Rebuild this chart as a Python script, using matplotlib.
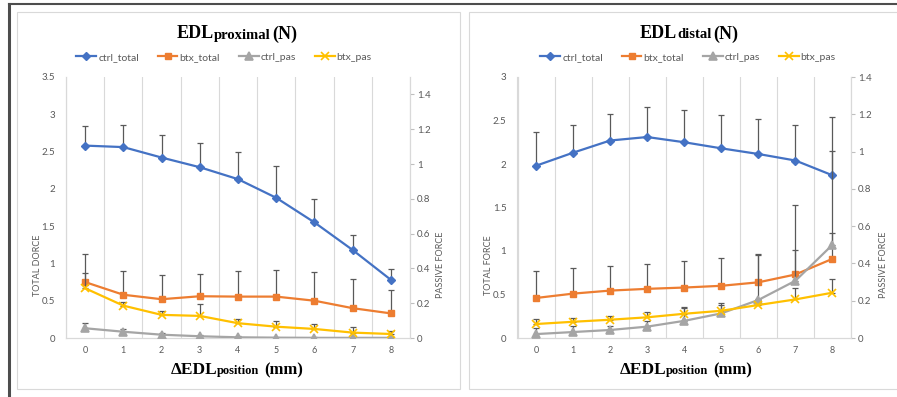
import matplotlib
matplotlib.use('Agg')
import matplotlib.pyplot as plt
from matplotlib.patches import Rectangle
from matplotlib.lines import Line2D
import numpy as np

plt.rcParams['font.family'] = ['Lato', 'DejaVu Sans']

positions = [0, 1, 2, 3, 4, 5, 6, 7, 8]
series_names = ['ctrl_total', 'btx_total', 'ctrl_pas', 'btx_pas']

# EDL proximal (totals on left axis, passive on right axis)
prox_ctrl_total = [2.58, 2.56, 2.42, 2.29, 2.13, 1.88, 1.55, 1.18, 0.78]
prox_ctrl_total_err = [0.26, 0.29, 0.30, 0.32, 0.37, 0.42, 0.32, 0.20, 0.15]
prox_btx_total = [0.75, 0.58, 0.52, 0.56, 0.555, 0.555, 0.50, 0.40, 0.33]
prox_btx_total_err = [0.38, 0.32, 0.33, 0.30, 0.345, 0.355, 0.38, 0.39, 0.32]
prox_ctrl_pas = [0.056, 0.036, 0.019, 0.010, 0.004, 0.002, 0.001, 0.001, 0.001]
prox_ctrl_pas_err = [0.03, 0.018, 0.01, 0.008, 0.005, 0.004, 0.004, 0.004, 0.004]
prox_btx_pas = [0.286, 0.186, 0.133, 0.127, 0.085, 0.065, 0.052, 0.031, 0.023]
prox_btx_pas_err = [0.09, 0.022, 0.022, 0.067, 0.026, 0.034, 0.026, 0.03, 0.019]

# EDL distal
dist_ctrl_total = [1.98, 2.13, 2.27, 2.31, 2.25, 2.18, 2.115, 2.04, 1.87]
dist_ctrl_total_err = [0.39, 0.32, 0.31, 0.35, 0.37, 0.38, 0.40, 0.41, 0.67]
dist_btx_total = [0.46, 0.51, 0.545, 0.565, 0.58, 0.60, 0.64, 0.73, 0.91]
dist_btx_total_err = [0.31, 0.29, 0.285, 0.28, 0.30, 0.32, 0.325, 0.28, 0.30]
dist_ctrl_pas = [0.021, 0.032, 0.043, 0.061, 0.092, 0.132, 0.204, 0.307, 0.50]
dist_ctrl_pas_err = [0.035, 0.03, 0.02, 0.03, 0.067, 0.054, 0.24, 0.406, 0.505]
dist_btx_pas = [0.075, 0.087, 0.098, 0.111, 0.13, 0.146, 0.177, 0.207, 0.243]
dist_btx_pas_err = [0.025, 0.022, 0.022, 0.027, 0.035, 0.03, 0.03, 0.059, 0.073]

colors = ['#4472C4', '#ED7D31', '#A5A5A5', '#FFC000']
markers = ['D', 's', '^', 'x']
msizes = [4.5, 5, 5.5, 6]
txt_gray = '#595959'
grid_gray = '#D9D9D9'

W, H = 897, 397
fig = plt.figure(figsize=(W / 100, H / 100), dpi=100)


def fx(px):
    return px / W


def fy(py):
    return 1 - py / H


# panel frames and outer border
fig.patches.append(Rectangle((fx(17), fy(389)), fx(443), 377 / H, transform=fig.transFigure,
                             facecolor='white', edgecolor=grid_gray, lw=0.8, zorder=-5))
fig.patches.append(Rectangle((fx(469), fy(389)), fx(440), 377 / H, transform=fig.transFigure,
                             facecolor='white', edgecolor=grid_gray, lw=0.8, zorder=-5))
fig.add_artist(Line2D([fx(9), 1], [fy(4), fy(4)], color='#4D4D4D', lw=1.5, transform=fig.transFigure))
fig.add_artist(Line2D([fx(9), fx(9)], [fy(4), 0], color='#4D4D4D', lw=2.2, transform=fig.transFigure))


def rich_text(xc, yb, parts):
    r = fig.canvas.get_renderer()
    items = []
    for s, size, gap in parts:
        t = fig.text(0, yb, s, fontsize=size, fontweight='bold', family='Liberation Serif',
                     va='baseline', ha='left', color='black')
        items.append((t, gap))
    widths = [t.get_window_extent(r).width + g for t, g in items]
    x = xc * W - sum(widths) / 2
    for (t, g), w in zip(items, widths):
        t.set_x(x / W)
        x += w


def draw_panel(rect, totals, tot_errs, passives, pas_errs, ymax_left, ymax_right, left_step):
    ax = fig.add_axes(rect)
    ax2 = ax.twinx()
    handles = []
    for i, (vals, errs) in enumerate(zip(totals, tot_errs)):
        ax.errorbar(positions, vals, yerr=[np.zeros(len(errs)), errs], fmt='none',
                    ecolor='#595959', elinewidth=0.9, capsize=2.5, capthick=0.9, zorder=2)
        h, = ax.plot(positions, vals, color=colors[i], marker=markers[i], ms=msizes[i],
                     lw=1.6, zorder=3, label=series_names[i])
        handles.append(h)
    for j, (vals, errs) in enumerate(zip(passives, pas_errs)):
        i = j + 2
        ax2.errorbar(positions, vals, yerr=[np.zeros(len(errs)), errs], fmt='none',
                     ecolor='#595959', elinewidth=0.9, capsize=2.5, capthick=0.9, zorder=2)
        h, = ax2.plot(positions, vals, color=colors[i], marker=markers[i], ms=msizes[i],
                      mew=1.2, lw=1.6, zorder=3, label=series_names[i])
        handles.append(h)

    ax.set_xlim(-0.5, 8.5)
    ax.set_ylim(0, ymax_left)
    ax2.set_ylim(0, ymax_right)
    ax.set_xticks(positions)
    ax.set_xticks(np.arange(-0.5, 9, 1), minor=True)
    ax.grid(which='minor', axis='x', color=grid_gray, lw=0.8)
    ax.set_axisbelow(True)
    ax.set_yticks(np.arange(0, ymax_left + 0.01, left_step))
    ax.set_yticklabels(['%g' % v for v in np.arange(0, ymax_left + 0.01, left_step)])
    ax2.set_yticks(np.arange(0, 1.41, 0.2))
    ax2.set_yticklabels(['%g' % round(v, 1) for v in np.arange(0, 1.41, 0.2)])
    ax.tick_params(axis='x', which='both', length=0, pad=6, labelsize=6.5, labelcolor=txt_gray)
    ax.tick_params(axis='y', length=0, pad=8, labelsize=7, labelcolor=txt_gray)
    ax2.tick_params(axis='y', length=3, pad=2, color='#BFBFBF', labelsize=7, labelcolor=txt_gray)
    for a in (ax, ax2):
        a.spines['top'].set_visible(False)
        for s in ('left', 'right', 'bottom'):
            a.spines[s].set_color(grid_gray)
            a.spines[s].set_linewidth(0.8)
    ax.patch.set_visible(False)
    return ax, handles


axL, hL = draw_panel([fx(66), 59 / H, 344 / W, 261 / H],
                     [prox_ctrl_total, prox_btx_total], [prox_ctrl_total_err, prox_btx_total_err],
                     [prox_ctrl_pas, prox_btx_pas], [prox_ctrl_pas_err, prox_btx_pas_err],
                     3.5, 1.5, 0.5)
axR, hR = draw_panel([fx(517.5), 59 / H, 333.5 / W, 261 / H],
                     [dist_ctrl_total, dist_btx_total], [dist_ctrl_total_err, dist_btx_total_err],
                     [dist_ctrl_pas, dist_btx_pas], [dist_ctrl_pas_err, dist_btx_pas_err],
                     3.0, 1.4, 0.5)

for handles, xc in ((hL, 224), (hR, 688)):
    fig.legend(handles=handles, loc='center', bbox_to_anchor=(fx(xc), fy(57)), ncol=4,
               frameon=False, fontsize=7.5, labelcolor=txt_gray, handlelength=1.9,
               handletextpad=0.2, columnspacing=1.8)

# axis titles
fig.text(fx(37), fy(265), 'TOTAL DORCE', rotation=90, ha='center', va='center', fontsize=6.5, color=txt_gray)
fig.text(fx(440), fy(265), 'PASSIVE FORCE', rotation=90, ha='center', va='center', fontsize=6.5, color=txt_gray)
fig.text(fx(488), fy(265), 'TOTAL FORCE', rotation=90, ha='center', va='center', fontsize=6.5, color=txt_gray)
fig.text(fx(883), fy(265), 'PASSIVE FORCE', rotation=90, ha='center', va='center', fontsize=6.5, color=txt_gray)

rich_text(fx(237), fy(38.5), [('EDL', 13, 0), ('proximal', 10.5, 2), ('(N)', 13, 0)])
rich_text(fx(689), fy(38.5), [('EDL', 13, 0), ('distal', 10.5, 2), ('(N)', 13, 0)])
rich_text(fx(237), fy(374), [('\u0394EDL', 12.5, 0), ('position', 9, 5), ('(mm)', 12, 0)])
rich_text(fx(686), fy(374), [('\u0394EDL', 12.5, 0), ('position', 9, 5), ('(mm)', 12, 0)])

fig.savefig('out.png', dpi=100)
